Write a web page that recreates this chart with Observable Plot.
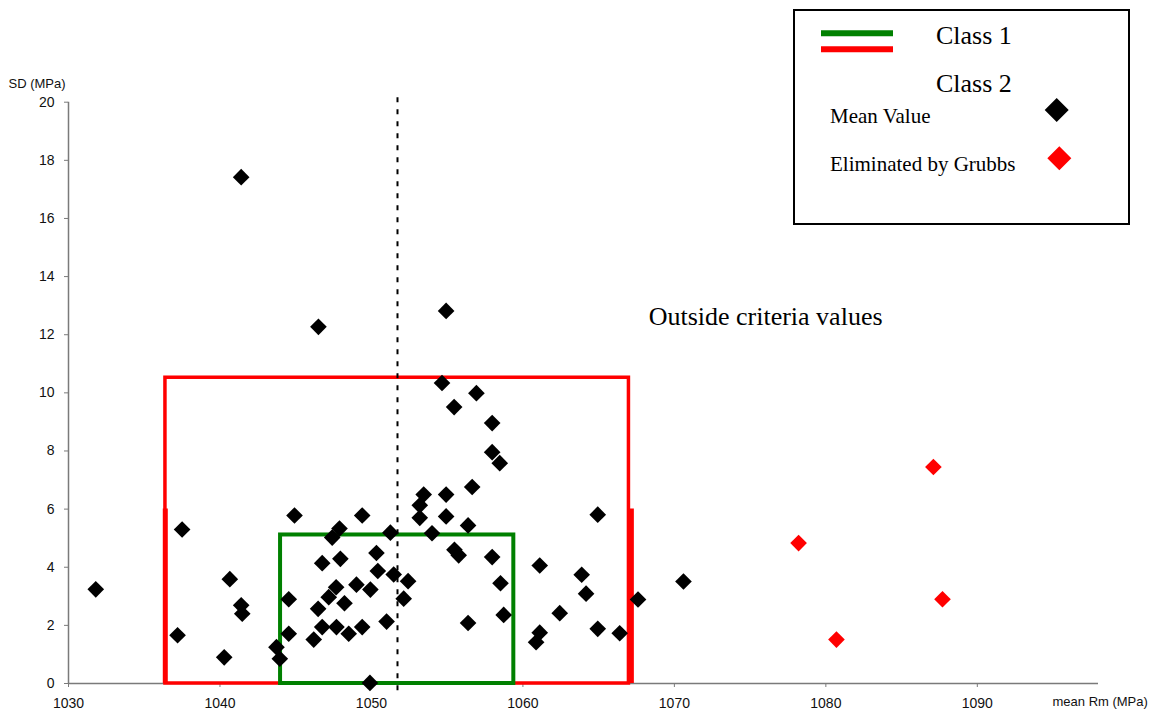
<!DOCTYPE html>
<html>
<head>
<meta charset="utf-8">
<script src="https://cdn.jsdelivr.net/npm/d3@7"></script>
<script src="https://cdn.jsdelivr.net/npm/@observablehq/plot@0.6"></script>
<style>
  body { margin: 0; background: #fff; }
  #wrap { position: relative; width: 1158px; height: 716px; }
  #legend { position: absolute; left: 793px; top: 9px; }
  #legend text { font-family: "Liberation Serif", "Times New Roman", serif; fill: #000; }
</style>
</head>
<body>
<div id="wrap">
  <div id="chart"></div>
  <svg id="legend" width="338" height="218" viewBox="0 0 338 218">
    <rect x="1" y="1" width="335" height="214" fill="#fff" stroke="#000" stroke-width="2"></rect>
    <line x1="28" x2="100" y1="24.3" y2="24.3" stroke="#008000" stroke-width="6"></line>
    <line x1="28" x2="100" y1="40.3" y2="40.3" stroke="#ff0000" stroke-width="6"></line>
    <text x="143" y="35.3" font-size="26">Class 1</text>
    <text x="143" y="82.7" font-size="26">Class 2</text>
    <text x="37" y="113.7" font-size="21">Mean Value</text>
    <text x="37" y="161.7" font-size="21">Eliminated by Grubbs</text>
    <polygon points="263.7,89 275.7,101 263.7,113 251.7,101" fill="#000"></polygon>
    <polygon points="266.3,137.3 278.3,149.3 266.3,161.3 254.3,149.3" fill="#ff0000"></polygon>
  </svg>
</div>
<script>
// ---- data ----
const meanRm = [
  1031.8, 1041.4, 1046.5, 1054.93, 1037.5, 1040.65, 1041.4, 1041.47, 1037.2, 1040.28,
  1044.92, 1049.39, 1047.89, 1047.41, 1046.75, 1047.95, 1050.33, 1050.42, 1044.54, 1047.67,
  1049.01, 1049.93, 1047.18, 1048.22, 1046.48, 1046.75, 1047.69, 1048.5, 1049.39, 1044.54,
  1046.19, 1043.73, 1043.95, 1049.9, 1054.66, 1056.93, 1055.46, 1057.97, 1057.97, 1058.47,
  1056.65, 1053.45, 1054.93, 1053.19, 1053.19, 1054.93, 1056.38, 1054.0, 1051.25, 1055.48,
  1055.76, 1057.97, 1051.47, 1052.42, 1058.52, 1052.13, 1051.0, 1056.38, 1058.73, 1064.94,
  1061.11, 1063.88, 1064.17, 1062.43, 1061.11, 1060.87, 1064.94, 1066.39, 1067.6, 1070.6
];
const sdMPa = [
  3.24, 17.42, 12.27, 12.82, 5.30, 3.59, 2.69, 2.40, 1.66, 0.90,
  5.78, 5.78, 5.33, 5.02, 4.14, 4.29, 4.49, 3.87, 2.90, 3.31,
  3.40, 3.23, 2.97, 2.76, 2.57, 1.94, 1.94, 1.71, 1.94, 1.71,
  1.51, 1.25, 0.85, 0.02, 10.34, 9.99, 9.51, 8.96, 7.96, 7.58,
  6.76, 6.50, 6.50, 6.13, 5.70, 5.75, 5.44, 5.17, 5.19, 4.60,
  4.41, 4.35, 3.75, 3.52, 3.45, 2.92, 2.13, 2.08, 2.36, 5.81,
  4.06, 3.74, 3.09, 2.42, 1.75, 1.42, 1.88, 1.73, 2.89, 3.51
];
const grubbsRm = [1087.1, 1078.2, 1087.7, 1080.7];
const grubbsSD = [7.45, 4.83, 2.90, 1.51];

const class1Rm = [1044, 1059.4];
const class1SD = [0, 5.11];
const class2Rm = [1036.4, 1067.0];
const class2SD = [0, 10.52];
const class2LowerRm = [1036.39, 1067.16];
const class2LowerSD = [0, 6.0];
const overallMeanRm = [1051.72];
const overallMeanSpan = [-0.25, 20.17];

const xTicks = [1030, 1040, 1050, 1060, 1070, 1080, 1090];
const yTicks = [0, 2, 4, 6, 8, 10, 12, 14, 16, 18, 20];
const xDomain = [1030, 1098];
const yDomain = [0, 20];

const noteText = ["Outside criteria values"];
const noteRm = [1068.3];
const noteSD = [12.63];

// ---- tables built from the arrays ----
const points = meanRm.map((x, i) => ({x, y: sdMPa[i]}));
const eliminated = grubbsRm.map((x, i) => ({x, y: grubbsSD[i]}));
const boxes2 = [{x1: class2Rm[0], x2: class2Rm[1], y1: class2SD[0], y2: class2SD[1]}];
const boxes1 = [{x1: class1Rm[0], x2: class1Rm[1], y1: class1SD[0], y2: class1SD[1]}];
const notes = noteText.map((t, i) => ({t, x: noteRm[i], y: noteSD[i]}));

const serif = "Liberation Serif, Times New Roman, serif";

const chart = Plot.plot({
  width: 1158,
  height: 716,
  marginLeft: 68,
  marginRight: 60,
  marginTop: 101.7,
  marginBottom: 33,
  x: {domain: xDomain},
  y: {domain: yDomain},
  style: {fontFamily: "Liberation Sans, Arial, sans-serif", fontSize: "14px", background: "#fff", color: "#111", overflow: "visible"},
  marks: [
    Plot.ruleY([0], {stroke: "#7a7a7a", strokeWidth: 1.5}),
    Plot.ruleX([xDomain[0]], {stroke: "#7a7a7a", strokeWidth: 1.5}),
    Plot.axisY(yTicks, {tickSize: 4, tickPadding: 10, stroke: "#7a7a7a", fill: "#111", fontSize: 14, tickFormat: "d", label: null}),
    Plot.axisX(xTicks, {tickSize: 4, tickPadding: 11, stroke: "#7a7a7a", fill: "#111", fontSize: 14, tickFormat: "d", label: null}),
    Plot.rect(boxes2, {x1: "x1", x2: "x2", y1: "y1", y2: "y2", fill: "none", stroke: "#ff0000", strokeWidth: 3.5}),
    Plot.ruleX(class2LowerRm, {y1: class2LowerSD[0], y2: class2LowerSD[1], stroke: "#ff0000", strokeWidth: 5}),
    Plot.rect(boxes1, {x1: "x1", x2: "x2", y1: "y1", y2: "y2", fill: "none", stroke: "#008000", strokeWidth: 4}),
    Plot.ruleX(overallMeanRm, {y1: overallMeanSpan[0], y2: overallMeanSpan[1], stroke: "#000", strokeWidth: 2, strokeDasharray: "5,7"}),
    Plot.dot(points, {x: "x", y: "y", symbol: "diamond2", r: 7.5, fill: "#000", stroke: "none"}),
    Plot.dot(eliminated, {x: "x", y: "y", symbol: "diamond2", r: 7.5, fill: "#ff0000", stroke: "none"}),
    Plot.text(notes, {x: "x", y: "y", text: "t", textAnchor: "start", fontSize: 26, fontFamily: serif, fill: "#000"}),
    Plot.text(["SD (MPa)"], {frameAnchor: "top-left", dx: -60, dy: -23.4, textAnchor: "start", fontSize: 13, fill: "#111"}),
    Plot.text(["mean Rm (MPa)"], {frameAnchor: "bottom-right", dx: -46, dy: 22, textAnchor: "start", fontSize: 13, fill: "#111"})
  ]
});
document.getElementById("chart").appendChild(chart);
</script>
</body>
</html>
